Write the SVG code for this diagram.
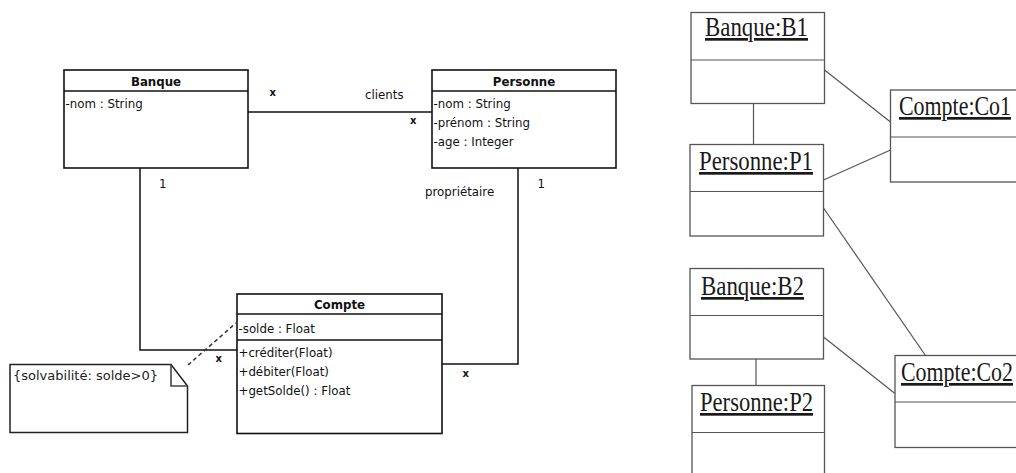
<svg xmlns="http://www.w3.org/2000/svg" width="1016" height="473" viewBox="0 0 1016 473">
  <style>
    .cls { fill: #fff; stroke: #111; stroke-width: 1.6; }
    .sep { stroke: #111; stroke-width: 1.6; }
    .assoc { fill: none; stroke: #111; stroke-width: 1.5; }
    .title { font-family: "DejaVu Sans", "Liberation Sans", sans-serif; font-size: 11.8px; font-weight: bold; fill: #111; text-anchor: middle; }
    .attr { font-family: "DejaVu Sans", "Liberation Sans", sans-serif; font-size: 11.8px; fill: #111; }
    .mult { font-family: "DejaVu Sans", "Liberation Sans", sans-serif; font-size: 10px; font-weight: bold; fill: #111; }
    .note { font-family: "DejaVu Sans", "Liberation Sans", sans-serif; font-size: 13px; fill: #222; }
    .obj { fill: #fff; stroke: #555; stroke-width: 1.3; }
    .objsep { stroke: #555; stroke-width: 1.2; }
    .link { fill: none; stroke: #555; stroke-width: 1.2; }
    .oname { font-family: "Liberation Serif", "Times New Roman", serif; font-size: 27px; fill: #1a1a1a; text-decoration: underline; }
  </style>

  <!-- class diagram connectors -->
  <g id="class-connectors">
    <line class="assoc" x1="248" y1="112" x2="432" y2="112"/>
    <polyline class="assoc" points="140,168 140,350 237,350"/>
    <polyline class="assoc" points="518,168 518,364 442,364"/>
    <line x1="188" y1="365" x2="236" y2="323" stroke="#333" stroke-width="1.5" stroke-dasharray="4,3"/>
    <text class="mult" x="269.5" y="96">x</text>
    <text class="attr" x="365" y="99">clients</text>
    <text class="mult" x="410" y="124">x</text>
    <text class="attr" x="159" y="187.5">1</text>
    <text class="attr" x="537.5" y="188">1</text>
    <text class="attr" x="425" y="196">propriétaire</text>
    <text class="mult" x="215.5" y="361.5">x</text>
    <text class="mult" x="462.5" y="376.5">x</text>
  </g>

  <!-- class Banque -->
  <g id="class-banque">
    <rect class="cls" x="64" y="70" width="184" height="98"/>
    <line class="sep" x1="64" y1="91" x2="248" y2="91"/>
    <text class="title" x="156" y="85.5">Banque</text>
    <text class="attr" x="65.5" y="108">-nom : String</text>
  </g>

  <!-- class Personne -->
  <g id="class-personne">
    <rect class="cls" x="432" y="70" width="184" height="98"/>
    <line class="sep" x1="432" y1="91" x2="616" y2="91"/>
    <text class="title" x="524" y="85.5">Personne</text>
    <text class="attr" x="433.5" y="108">-nom : String</text>
    <text class="attr" x="433.5" y="127">-prénom : String</text>
    <text class="attr" x="433.5" y="146">-age : Integer</text>
  </g>

  <!-- class Compte -->
  <g id="class-compte">
    <rect class="cls" x="237" y="294" width="205" height="139.5"/>
    <line class="sep" x1="237" y1="314" x2="442" y2="314"/>
    <line class="sep" x1="237" y1="340" x2="442" y2="340"/>
    <text class="title" x="339.5" y="309">Compte</text>
    <text class="attr" x="238.5" y="333">-solde : Float</text>
    <text class="attr" x="238.5" y="356.5">+créditer(Float)</text>
    <text class="attr" x="238.5" y="375.5">+débiter(Float)</text>
    <text class="attr" x="238.5" y="394.5">+getSolde() : Float</text>
  </g>

  <!-- constraint note -->
  <g id="note-solvabilite">
    <path d="M10,364.5 H171 L187.5,386 V432.5 H10 Z" fill="#fff" stroke="#222" stroke-width="1.5"/>
    <path d="M171,364.5 V386 H187.5" fill="none" stroke="#444" stroke-width="1.6"/>
    <text class="note" x="13" y="380">{solvabilité: solde&gt;0}</text>
  </g>

  <!-- object diagram links -->
  <g id="object-links">
    <line class="link" x1="753.5" y1="103" x2="753.5" y2="144.5"/>
    <line class="link" x1="824.5" y1="70" x2="890.5" y2="122"/>
    <line class="link" x1="823.5" y1="180" x2="890.5" y2="150"/>
    <line class="link" x1="823.5" y1="208" x2="925.5" y2="355.5"/>
    <line class="link" x1="756" y1="359" x2="756" y2="385.5"/>
    <line class="link" x1="823.5" y1="337" x2="895" y2="393.5"/>
  </g>

  <!-- object Banque:B1 -->
  <g id="obj-banque-b1">
    <rect class="obj" x="691" y="12.5" width="133.5" height="91"/>
    <line class="objsep" x1="691" y1="60" x2="824.5" y2="60"/>
    <text class="oname" x="705" y="36" textLength="103" lengthAdjust="spacingAndGlyphs">Banque:B1</text>
  </g>

  <!-- object Personne:P1 -->
  <g id="obj-personne-p1">
    <rect class="obj" x="690" y="144.5" width="133.5" height="91.5"/>
    <line class="objsep" x1="690" y1="191.5" x2="823.5" y2="191.5"/>
    <text class="oname" x="699" y="170" textLength="114" lengthAdjust="spacingAndGlyphs">Personne:P1</text>
  </g>

  <!-- object Compte:Co1 -->
  <g id="obj-compte-co1">
    <rect class="obj" x="890.5" y="90" width="160" height="92"/>
    <line class="objsep" x1="890.5" y1="137" x2="1050" y2="137"/>
    <text class="oname" x="899" y="115" textLength="112" lengthAdjust="spacingAndGlyphs">Compte:Co1</text>
  </g>

  <!-- object Banque:B2 -->
  <g id="obj-banque-b2">
    <rect class="obj" x="690" y="268.5" width="133.5" height="90.5"/>
    <line class="objsep" x1="690" y1="315.5" x2="823.5" y2="315.5"/>
    <text class="oname" x="701" y="295" textLength="103" lengthAdjust="spacingAndGlyphs">Banque:B2</text>
  </g>

  <!-- object Personne:P2 -->
  <g id="obj-personne-p2">
    <rect class="obj" x="692" y="385.5" width="132.5" height="120"/>
    <line class="objsep" x1="692" y1="432.5" x2="824.5" y2="432.5"/>
    <text class="oname" x="700" y="411" textLength="113" lengthAdjust="spacingAndGlyphs">Personne:P2</text>
  </g>

  <!-- object Compte:Co2 -->
  <g id="obj-compte-co2">
    <rect class="obj" x="895" y="355.5" width="160" height="92"/>
    <line class="objsep" x1="895" y1="402" x2="1055" y2="402"/>
    <text class="oname" x="901" y="381" textLength="112" lengthAdjust="spacingAndGlyphs">Compte:Co2</text>
  </g>
</svg>
